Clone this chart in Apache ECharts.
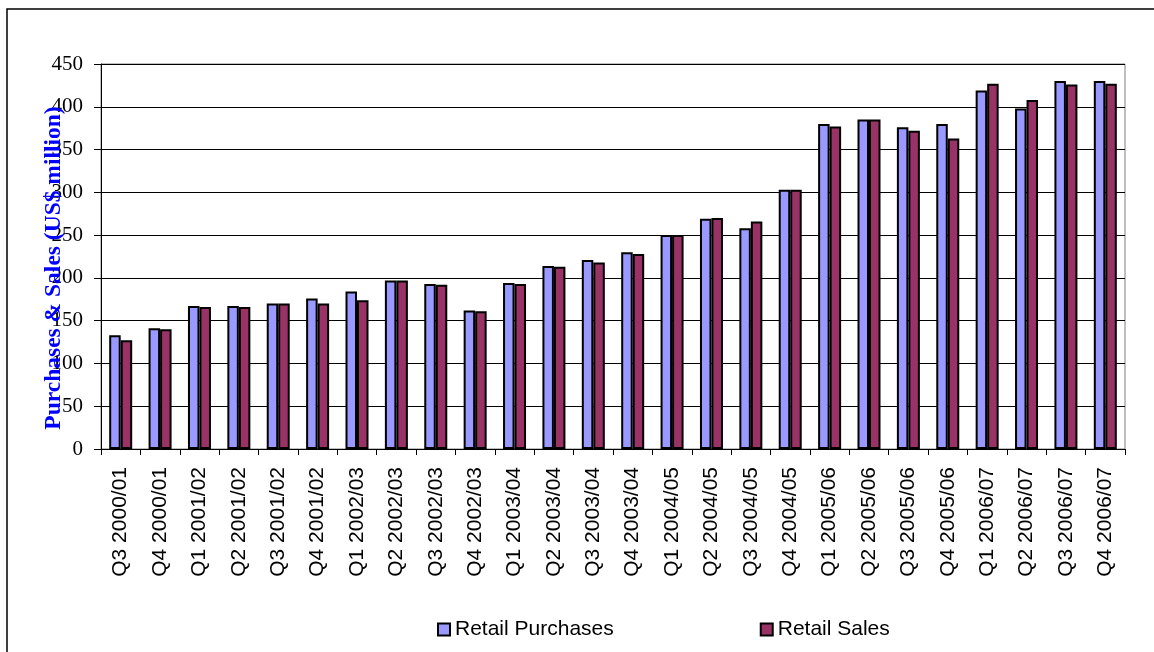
<!DOCTYPE html>
<html>
<head>
<meta charset="utf-8">
<script src="https://cdn.jsdelivr.net/npm/echarts@6/dist/echarts.min.js"></script>
<style>
  html, body { margin: 0; padding: 0; background: #ffffff; }
  #chart { width: 1154px; height: 652px; }
</style>
</head>
<body>
<div id="chart"></div>
<script>
// Quarterly retail purchases and sales, US$ million
const quarters = [
  'Q3 2000/01', 'Q4 2000/01',
  'Q1 2001/02', 'Q2 2001/02', 'Q3 2001/02', 'Q4 2001/02',
  'Q1 2002/03', 'Q2 2002/03', 'Q3 2002/03', 'Q4 2002/03',
  'Q1 2003/04', 'Q2 2003/04', 'Q3 2003/04', 'Q4 2003/04',
  'Q1 2004/05', 'Q2 2004/05', 'Q3 2004/05', 'Q4 2004/05',
  'Q1 2005/06', 'Q2 2005/06', 'Q3 2005/06', 'Q4 2005/06',
  'Q1 2006/07', 'Q2 2006/07', 'Q3 2006/07', 'Q4 2006/07'
];
const retailPurchases = [
  133, 141, 167, 167, 170, 176, 184, 197, 193, 162,
  194, 214, 221, 230, 250, 269, 258, 303, 380, 385,
  376, 380, 419, 398, 430, 430
];
const retailSales = [
  127, 140, 166, 166, 170, 170, 174, 197, 192, 161,
  193, 213, 218, 228, 250, 270, 266, 303, 377, 385,
  372, 363, 427, 408, 426, 427
];
const valueTicks = { min: 0, max: 450, step: 50 };
const valueTitle = 'Purchases & Sales (US$ million)';

const chart = echarts.init(document.getElementById('chart'), null, { renderer: 'canvas' });

const barStyle = (fill) => ({ color: fill, borderColor: '#000000', borderWidth: 2 });

chart.setOption({
  animation: false,
  backgroundColor: '#ffffff',
  graphic: [
    {
      // outer frame of the chart area
      type: 'rect',
      shape: { x: 7, y: 9, width: 1300, height: 800 },
      style: { fill: 'none', stroke: '#000000', lineWidth: 1.5 },
      silent: true
    },
    {
      // vertical title of the value axis, drawn over the tick labels
      type: 'text',
      x: 54, y: 268,
      rotation: Math.PI / 2,
      z: 100,
      style: {
        text: valueTitle,
        fill: '#0000ff',
        font: 'bold 23.5px "Liberation Serif"',
        align: 'center',
        verticalAlign: 'middle'
      },
      silent: true
    }
  ],
  grid: {
    left: 101, right: 29, top: 64, bottom: 203,
    show: true, borderColor: '#808080', borderWidth: 1, backgroundColor: 'transparent'
  },
  legend: {
    left: 432, top: 614,
    itemWidth: 12, itemHeight: 12, itemGap: 146,
    icon: 'rect',
    textStyle: { fontFamily: 'Liberation Sans', fontSize: 21, color: '#000000' },
    data: ['Retail Purchases', 'Retail Sales']
  },
  xAxis: {
    type: 'category',
    data: quarters,
    axisLine: { lineStyle: { color: '#000000', width: 1 } },
    axisTick: { show: true, interval: 0, length: 6, lineStyle: { color: '#000000' } },
    axisLabel: {
      interval: 0, rotate: 90, margin: 18,
      fontFamily: 'Liberation Sans', fontSize: 21, color: '#000000'
    }
  },
  yAxis: {
    type: 'value',
    min: valueTicks.min, max: valueTicks.max, interval: valueTicks.step,
    axisLine: { show: true, lineStyle: { color: '#000000', width: 1 } },
    axisTick: { show: true, length: 7, lineStyle: { color: '#000000' } },
    axisLabel: {
      margin: 18, fontFamily: 'Liberation Serif', fontSize: 21, color: '#000000'
    },
    splitLine: { show: true, lineStyle: { color: '#000000', width: 1 } }
  },
  series: [
    {
      name: 'Retail Purchases', type: 'bar', data: retailPurchases,
      barWidth: 11.5, barGap: '0%', itemStyle: barStyle('#9999ff')
    },
    {
      name: 'Retail Sales', type: 'bar', data: retailSales,
      barWidth: 11.5, barGap: '0%', itemStyle: barStyle('#993366')
    }
  ]
});
</script>
</body>
</html>
